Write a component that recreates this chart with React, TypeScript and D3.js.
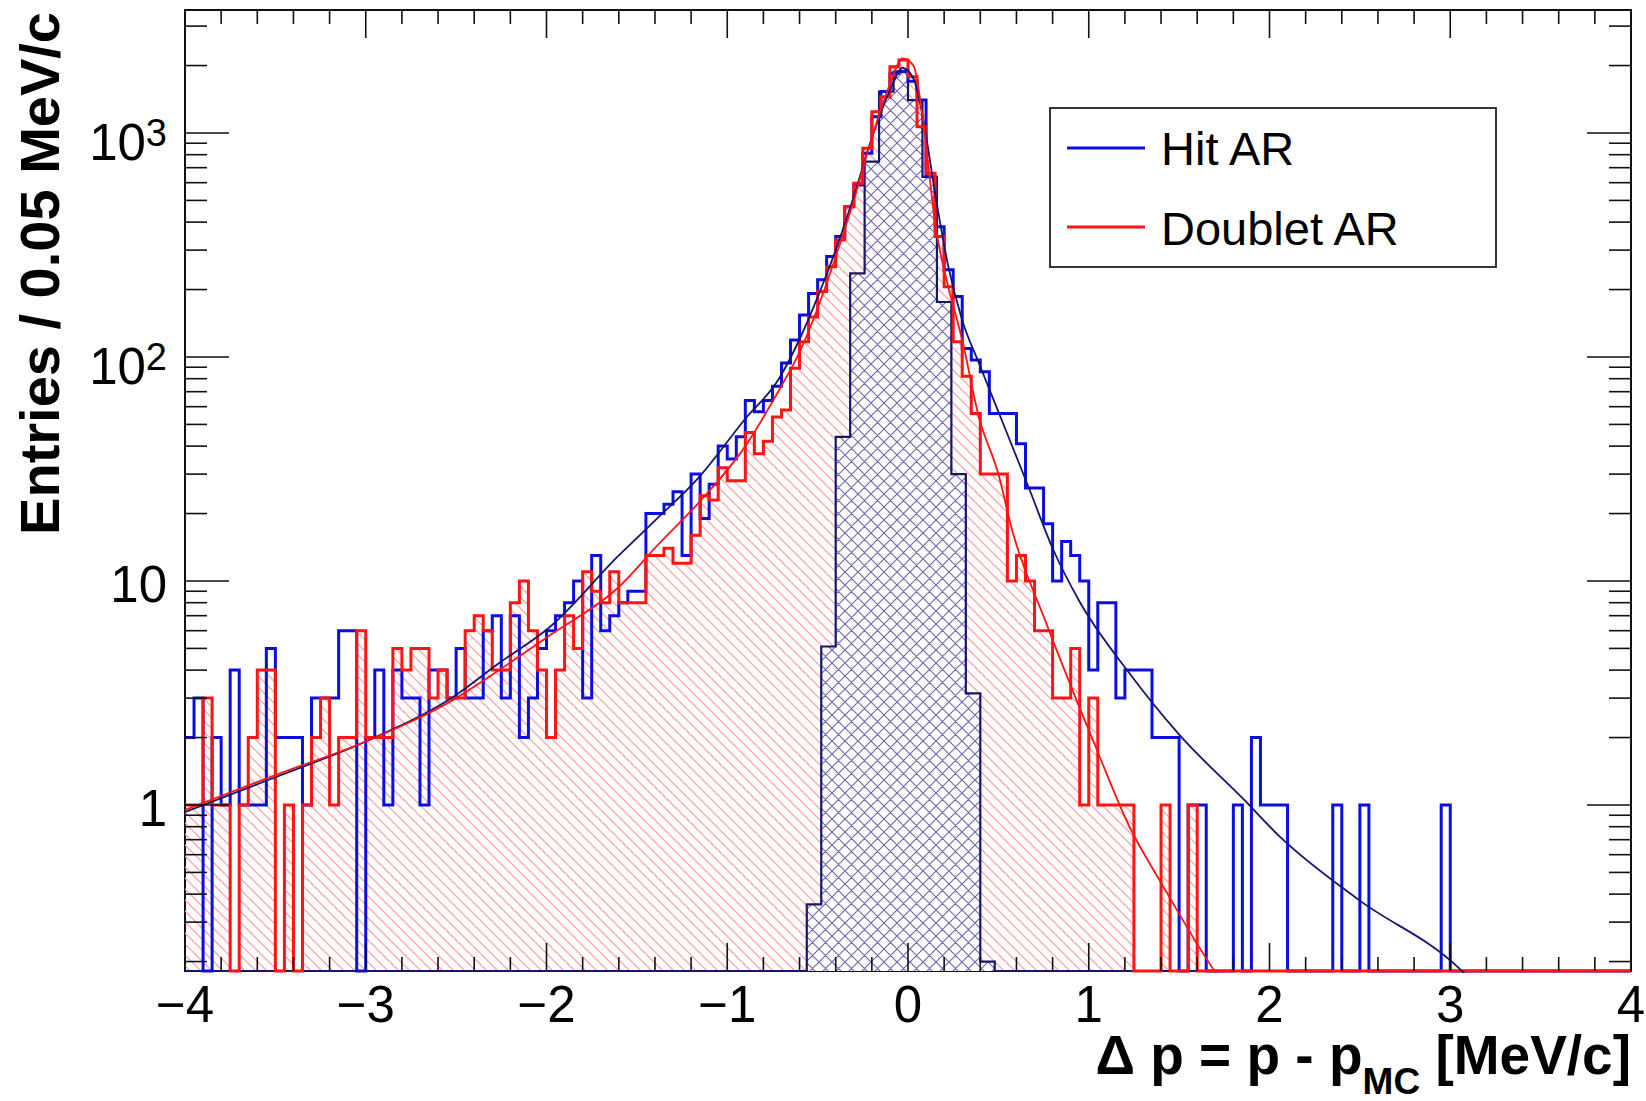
import React from "react";
import * as d3 from "d3";

// ---------------- data ----------------
const X_MIN = -4;
const X_MAX = 4;
const BIN_W = 0.05;
const Y_MIN = 0.1815;
const Y_MAX = 3540;

// Hit AR (blue), 160 bins of 0.05 from -4 to 4
const hitAR = [
  2, 3, 0, 2, 1, 4, 1, 1, 1, 5,
  2, 2, 2, 1, 3, 3, 3, 6, 6, 0,
  2, 4, 1, 4, 3, 3, 1, 4, 4, 3,
  5, 3, 3, 6, 7, 3, 7, 2, 3, 5,
  6, 7, 8, 10, 3, 13, 6, 7, 8, 9,
  9, 20, 20, 22, 25, 13, 30, 19, 27, 40,
  35, 44, 64, 57, 64, 74, 94, 119, 154, 192,
  221, 281, 345, 469, 586, 811, 1183, 1530, 1850, 1880,
  1700, 1403, 637, 381, 245, 186, 109, 97, 86, 56,
  56, 56, 41, 26, 26, 18, 10, 15, 13, 10,
  4, 8, 8, 3, 4, 4, 4, 2, 2, 2,
  0, 1, 1, 0, 0, 0, 1, 0, 2, 1,
  1, 1, 0, 0, 0, 0, 0, 1, 0, 0,
  1, 0, 0, 0, 0, 0, 0, 0, 0, 1,
  0, 0, 0, 0, 0, 0, 0, 0, 0, 0,
  0, 0, 0, 0, 0, 0, 0, 0, 0, 0,
];

// Doublet AR (red), 160 bins of 0.05 from -4 to 4
const doubletAR = [
  1, 1, 3, 1, 1, 0, 1, 2, 4, 4,
  0, 1, 0, 1, 2, 3, 1, 2, 2, 6,
  2, 2, 2, 5, 4, 5, 5, 3, 4, 3,
  3, 6, 7, 6, 4, 4, 8, 10, 6, 4,
  2, 4, 7, 5, 11, 9, 8, 11, 8, 8,
  8, 13, 13, 14, 12, 12, 16, 24, 23, 32,
  28, 28, 46, 37, 42, 54, 58, 89, 117, 151,
  196, 253, 333, 469, 596, 855, 1245, 1452, 1977, 2118,
  1783, 1067, 661, 345, 206, 117, 82, 56, 30, 30,
  30, 10, 13, 10, 6, 6, 3, 3, 5, 1,
  3, 1, 1, 1, 1, 0, 0, 0, 1, 0,
  0, 1, 0, 0, 0, 0, 0, 0, 0, 0,
  0, 0, 0, 0, 0, 0, 0, 0, 0, 0,
  0, 0, 0, 0, 0, 0, 0, 0, 0, 0,
  0, 0, 0, 0, 0, 0, 0, 0, 0, 0,
  0, 0, 0, 0, 0, 0, 0, 0, 0, 0,
];

// narrow cross-hatched histogram (0.08 bins), non-empty part
const mcStart = -0.56;
const mcBinW = 0.08;
const mcValues = [0.36, 5.1, 44, 236, 745, 1530, 1878, 1403, 637, 176, 30, 3.15, 0.2];

// fit curve for Hit AR (navy)
const hitFitX = [-4.0, -3.5, -3.0, -2.5, -2.262, -1.985, -1.6, -1.4, -1.157, -0.9, -0.714, -0.6, -0.5, -0.4, -0.3, -0.2, -0.1, -0.03, 0.03, 0.08, 0.153, 0.22, 0.3, 0.392, 0.5, 0.669, 0.8, 0.945, 1.222, 1.498, 1.867, 2.051, 2.494, 3.048, 3.1];
const hitFitY = [0.93, 1.33, 1.92, 3.1, 4.3, 6.2, 13, 18.6, 29, 53, 80, 120, 185, 300, 520, 950, 1550, 1950, 1750, 1200, 520, 260, 146, 94, 57, 26, 14, 8.2, 3.9, 2.07, 1.04, 0.73, 0.377, 0.187, 0.17];

// fit curve for Doublet AR (red)
const dblFitX = [-4.0, -3.5, -3.0, -2.5, -2.262, -1.985, -1.6, -1.377, -1.157, -0.9, -0.714, -0.6, -0.5, -0.4, -0.3, -0.2, -0.1, -0.03, 0.03, 0.08, 0.153, 0.22, 0.3, 0.392, 0.5, 0.576, 0.761, 1.038, 1.222, 1.407, 1.683, 1.72];
const dblFitY = [0.95, 1.36, 1.92, 3.0, 4.0, 5.7, 9.4, 14.7, 22.4, 40, 71, 105, 165, 280, 500, 950, 1650, 2150, 2000, 1200, 380, 210, 119, 54, 30, 16.9, 6.6, 1.82, 0.81, 0.44, 0.188, 0.17];

const xTickValues = [-4, -3, -2, -1, 0, 1, 2, 3, 4];
const xTickLabels = ["\u22124", "\u22123", "\u22122", "\u22121", "0", "1", "2", "3", "4"];
const yTickValues = [1, 10, 100, 1000];
const yTickBase = ["1", "10", "10", "10"];
const yTickExp = ["", "", "2", "3"];

const legendLabels = ["Hit AR", "Doublet AR"];

// ---------------- component ----------------
const FONT = "'Liberation Sans', Arial, Helvetica, sans-serif";
const BLUE = "#0a0ee0";
const RED = "#ff1414";
const NAVY = "#16166e";

export default function App() {
  const W = 1646;
  const H = 1101;
  const L = 185;
  const R = 1631;
  const T = 10;
  const B = 971;

  const x = d3.scaleLinear().domain([X_MIN, X_MAX]).range([L, R]);
  const y = d3.scaleLog().domain([Y_MIN, Y_MAX]).range([B, T]);
  const yc = (v: number) => y(Math.max(v, Y_MIN));

  const histPts = (vals: number[], start: number, w: number) => {
    const pts: [number, number][] = vals.map((v, i) => [start + i * w, v]);
    pts.push([start + vals.length * w, vals[vals.length - 1]]);
    return pts;
  };

  const stepLine = d3
    .line<[number, number]>()
    .x((d) => x(d[0]))
    .y((d) => yc(d[1]))
    .curve(d3.curveStepAfter);
  const stepArea = d3
    .area<[number, number]>()
    .x((d) => x(d[0]))
    .y0(B)
    .y1((d) => yc(d[1]))
    .curve(d3.curveStepAfter);

  const hitPts = histPts(hitAR, X_MIN, BIN_W);
  const dblPts = histPts(doubletAR, X_MIN, BIN_W);

  // full cross-hatched histogram over the axis range (zeros outside)
  const mcN = Math.round((X_MAX - X_MIN) / mcBinW);
  const mcOffset = Math.round((mcStart - X_MIN) / mcBinW);
  const mcFull = d3.range(mcN).map((i) => {
    const j = i - mcOffset;
    return j >= 0 && j < mcValues.length ? mcValues[j] : 0;
  });
  const mcPts = histPts(mcFull, X_MIN, mcBinW);
  const mcAreaPts = histPts(mcValues, mcStart, mcBinW);

  const fitLine = d3
    .line<[number, number]>()
    .x((d) => x(d[0]))
    .y((d) => y(d[1]))
    .curve(d3.curveMonotoneX);
  const hitFit: [number, number][] = hitFitX.map((v, i) => [v, hitFitY[i]]);
  const dblFit: [number, number][] = dblFitX.map((v, i) => [v, dblFitY[i]]);

  // ticks
  const xMinor = d3
    .range(0, 41)
    .map((i) => X_MIN + i * 0.2)
    .filter((v) => Math.abs(v - Math.round(v)) > 1e-6);
  const yMinor: number[] = [];
  for (let d = -1; d <= 3; d++) {
    for (let m = 2; m <= 9; m++) {
      const v = m * Math.pow(10, d);
      if (v >= Y_MIN && v <= Y_MAX) yMinor.push(v);
    }
  }

  const majX = 28;
  const minX = 14;
  const majY = 44;
  const minY = 22;

  return (
    <svg
      width={W}
      height={H}
      viewBox={`0 0 ${W} ${H}`}
      style={{ position: "absolute", left: 0, top: 0, display: "block", background: "#fff" }}
    >
      <defs>
        <clipPath id="plotClip">
          <rect x={L} y={T} width={R - L} height={B - T + 2} />
        </clipPath>
        <pattern id="redHatch" patternUnits="userSpaceOnUse" width={11} height={11}>
          <path d="M-2,-2 L13,13 M-8,3 L3,14 M3,-8 L14,3" stroke="#ffa6a6" strokeWidth={1.3} fill="none" />
        </pattern>
        <pattern id="crossHatch" patternUnits="userSpaceOnUse" width={13} height={13}>
          <path
            d="M-2,-2 L15,15 M-9,4 L4,17 M4,-9 L17,4 M-2,15 L15,-2 M-9,9 L4,-4 M9,17 L17,9"
            stroke="#7566b0"
            strokeWidth={1.15}
            fill="none"
          />
        </pattern>
      </defs>

      <rect x={0} y={0} width={W} height={H} fill="#fff" />

      {/* frame */}
      <rect x={L} y={T} width={R - L} height={B - T} fill="none" stroke="#111" strokeWidth={2} />

      <g clipPath="url(#plotClip)">
        {/* Doublet AR hatched fill */}
        <path d={stepArea(dblPts) || ""} fill="url(#redHatch)" stroke="none" />
        {/* cross-hatched narrow histogram */}
        <path d={stepArea(mcAreaPts) || ""} fill="#fff" stroke="none" />
        <path d={stepArea(mcAreaPts) || ""} fill="url(#crossHatch)" stroke="none" />
        <path d={stepLine(mcPts) || ""} fill="none" stroke={NAVY} strokeWidth={2.2} />
        {/* Hit AR */}
        <path d={stepLine(hitPts) || ""} fill="none" stroke={BLUE} strokeWidth={3} />
        {/* Doublet AR */}
        <path d={stepLine(dblPts) || ""} fill="none" stroke={RED} strokeWidth={3} />
        {/* fits */}
        <path d={fitLine(hitFit) || ""} fill="none" stroke={NAVY} strokeWidth={1.8} />
        <path d={fitLine(dblFit) || ""} fill="none" stroke={RED} strokeWidth={1.8} />
      </g>

      {/* ticks */}
      <g stroke="#111" strokeWidth={1.6}>
        {xTickValues.map((v) => (
          <g key={"xM" + v}>
            <line x1={x(v)} x2={x(v)} y1={B} y2={B - majX} />
            <line x1={x(v)} x2={x(v)} y1={T} y2={T + majX} />
          </g>
        ))}
        {xMinor.map((v, i) => (
          <g key={"xm" + i}>
            <line x1={x(v)} x2={x(v)} y1={B} y2={B - minX} />
            <line x1={x(v)} x2={x(v)} y1={T} y2={T + minX} />
          </g>
        ))}
        {yTickValues.map((v) => (
          <g key={"yM" + v}>
            <line x1={L} x2={L + majY} y1={y(v)} y2={y(v)} />
            <line x1={R} x2={R - majY} y1={y(v)} y2={y(v)} />
          </g>
        ))}
        {yMinor.map((v, i) => (
          <g key={"ym" + i}>
            <line x1={L} x2={L + minY} y1={y(v)} y2={y(v)} />
            <line x1={R} x2={R - minY} y1={y(v)} y2={y(v)} />
          </g>
        ))}
      </g>

      {/* x tick labels */}
      <g fontFamily={FONT} fontSize={51} fill="#000" textAnchor="middle">
        {xTickValues.map((v, i) => (
          <text key={"xl" + v} x={x(v)} y={1022}>
            {xTickLabels[i]}
          </text>
        ))}
      </g>

      {/* y tick labels */}
      <g fontFamily={FONT} fill="#000" textAnchor="end">
        {yTickValues.map((v, i) =>
          yTickExp[i] ? (
            <text key={"yl" + v} x={167} y={y(v) + 27} fontSize={51}>
              {yTickBase[i]}
              <tspan fontSize={38} dy={-14}>
                {yTickExp[i]}
              </tspan>
            </text>
          ) : (
            <text key={"yl" + v} x={167} y={y(v) + 21} fontSize={51}>
              {yTickBase[i]}
            </text>
          )
        )}
      </g>

      {/* axis titles */}
      <text
        transform={`translate(59, 12) rotate(-90)`}
        textAnchor="end"
        fontFamily={FONT}
        fontWeight="bold"
        fontSize={56}
        fill="#000"
      >
        Entries / 0.05 MeV/c
      </text>
      <text x={R} y={1074} textAnchor="end" fontFamily={FONT} fontWeight="bold" fontSize={55} fill="#000">
        {"\u0394 p = p - p"}
        <tspan fontSize={37} dy={20}>
          MC
        </tspan>
        <tspan dy={-20}>{" [MeV/c]"}</tspan>
      </text>

      {/* legend */}
      <g>
        <rect x={1050} y={108} width={446} height={159} fill="#fff" stroke="#222" strokeWidth={1.8} />
        <line x1={1067} x2={1145} y1={148} y2={148} stroke={BLUE} strokeWidth={3} />
        <line x1={1067} x2={1145} y1={227} y2={227} stroke={RED} strokeWidth={3} />
        <text x={1161} y={165} fontFamily={FONT} fontSize={47} fill="#000">
          {legendLabels[0]}
        </text>
        <text x={1161} y={245} fontFamily={FONT} fontSize={47} fill="#000">
          {legendLabels[1]}
        </text>
      </g>
    </svg>
  );
}
